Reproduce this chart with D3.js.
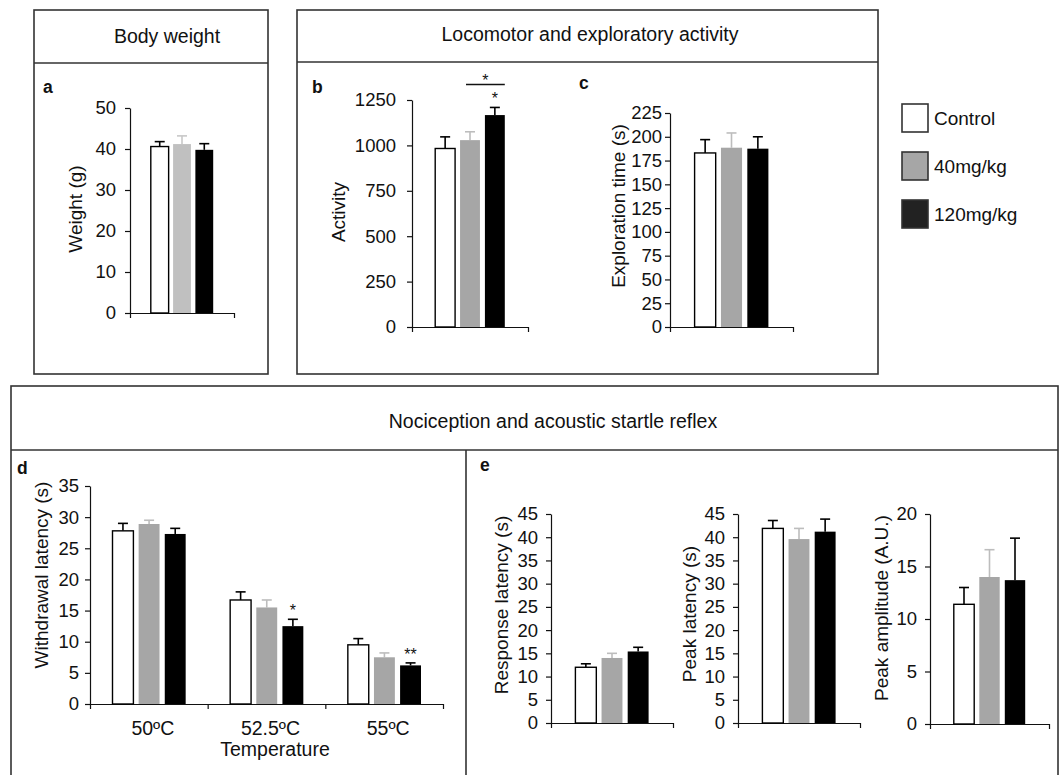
<!doctype html>
<html>
<head>
<meta charset="utf-8">
<script src="https://d3js.org/d3.v7.min.js"></script>
<style>
  body { margin: 0; background: #fff; }
  svg { display: block; }
  text { font-family: "Liberation Sans", Arial, sans-serif; fill: #111; }
</style>
</head>
<body>
<svg id="fig" width="1059" height="775"></svg>
<script>
// groups and legend
const groups = ["Control", "40mg/kg", "120mg/kg"];
const groupFill = ["#ffffff", "#a6a6a6", "#000000"];
const groupErr = ["#000000", "#bdbdbd", "#000000"];
const legendFill = ["#ffffff", "#a6a6a6", "#222222"];

// a: body weight
const weightMean = [40.6, 41.2, 39.8];
const weightSem = [1.2, 2.0, 1.5];
const weightTicks = [0, 10, 20, 30, 40, 50];

// b: locomotor activity
const activityMean = [983, 1029, 1167];
const activitySem = [64, 46, 42];
const activityTicks = [0, 250, 500, 750, 1000, 1250];

// c: exploration time
const explorationMean = [183, 188.5, 187.5];
const explorationSem = [14, 15.5, 12.5];
const explorationTicks = [0, 25, 50, 75, 100, 125, 150, 175, 200, 225];

// d: withdrawal latency by temperature
const temps = ["50ºC", "52.5ºC", "55ºC"];
const withdrawalMean = [[27.8, 28.9, 27.3], [16.7, 15.5, 12.5], [9.5, 7.5, 6.2]];
const withdrawalSem = [[1.2, 0.6, 0.9], [1.3, 1.2, 1.1], [1.0, 0.7, 0.4]];
const withdrawalStars = [["", "", ""], ["", "", "*"], ["", "", "**"]];
const withdrawalTicks = [0, 5, 10, 15, 20, 25, 30, 35];

// e: acoustic startle
const responseMean = [12.0, 14.0, 15.4];
const responseSem = [0.75, 1.0, 0.9];
const peakLatMean = [41.9, 39.6, 41.2];
const peakLatSem = [1.7, 2.3, 2.7];
const peakAmpMean = [11.4, 14.0, 13.7];
const peakAmpSem = [1.6, 2.6, 4.0];
const latencyTicks = [0, 5, 10, 15, 20, 25, 30, 35, 40, 45];
const amplitudeTicks = [0, 5, 10, 15, 20];

const svg = d3.select("#fig");
const ink = "#111";

function box(x0, y0, x1, y1, divY) {
  svg.append("rect").attr("x", x0).attr("y", y0).attr("width", x1 - x0).attr("height", y1 - y0)
    .attr("fill", "none").attr("stroke", "#333").attr("stroke-width", 1.6);
  svg.append("line").attr("x1", x0).attr("x2", x1).attr("y1", divY).attr("y2", divY)
    .attr("stroke", "#333").attr("stroke-width", 1.6);
}

function label(x, y, txt, size, opts) {
  opts = opts || {};
  const t = svg.append("text").attr("x", x).attr("y", y).text(txt)
    .attr("font-size", size).attr("text-anchor", opts.anchor || "middle");
  if (opts.bold) t.attr("font-weight", "bold");
  if (opts.rotate) t.attr("transform", `rotate(-90,${x},${y})`);
  return t;
}

function styleAxis(g, size) {
  g.attr("font-size", size).attr("font-family", "'Liberation Sans', Arial, sans-serif")
    .style("color", ink);
  g.selectAll("path, line").attr("stroke-width", 1.2);
}

// y axis + baseline axis, returns y scale
function axes(x0, x1, yBottom, yTop, ticks, pad, xTicks) {
  const y = d3.scaleLinear().domain([0, d3.max(ticks)]).range([yBottom, yTop]);
  const ga = svg.append("g").attr("transform", `translate(${x0},0)`)
    .call(d3.axisLeft(y).tickValues(ticks).tickSize(5).tickSizeOuter(0).tickPadding(pad)
      .tickFormat(d3.format("d")));
  styleAxis(ga, 18.5);
  const xs = d3.scaleLinear().domain([0, xTicks]).range([x0, x1]);
  const gb = svg.append("g").attr("transform", `translate(0,${yBottom})`)
    .call(d3.axisBottom(xs).tickValues(d3.range(xTicks + 1)).tickSize(5).tickSizeOuter(0).tickFormat(""));
  styleAxis(gb, 18);
  return y;
}

function bars(xBand, y, means, sems, fills, errs, stars) {
  const g = svg.append("g");
  const data = means.map((m, i) => ({ m: m, s: sems[i], i: i, star: stars ? stars[i] : "" }));
  const bw = xBand.bandwidth();
  // whisker (drawn first so bar top covers it)
  g.selectAll("line.err").data(data).enter().append("line")
    .attr("x1", d => xBand(groups[d.i]) + bw / 2).attr("x2", d => xBand(groups[d.i]) + bw / 2)
    .attr("y1", d => y(d.m)).attr("y2", d => y(d.m + d.s))
    .attr("stroke", d => errs[d.i]).attr("stroke-width", 1.6);
  g.selectAll("line.cap").data(data).enter().append("line")
    .attr("x1", d => xBand(groups[d.i]) + bw / 2 - 5).attr("x2", d => xBand(groups[d.i]) + bw / 2 + 5)
    .attr("y1", d => y(d.m + d.s)).attr("y2", d => y(d.m + d.s))
    .attr("stroke", d => errs[d.i]).attr("stroke-width", 1.6);
  g.selectAll("rect").data(data).enter().append("rect")
    .attr("x", d => xBand(groups[d.i])).attr("width", bw)
    .attr("y", d => y(d.m)).attr("height", d => y(0) - y(d.m))
    .attr("fill", d => fills[d.i])
    .attr("stroke", d => d.i === 0 ? "#000" : "none").attr("stroke-width", 1.4);
  g.selectAll("text").data(data.filter(d => d.star)).enter().append("text")
    .attr("x", d => xBand(groups[d.i]) + bw / 2).attr("y", d => y(d.m + d.s) - 3)
    .attr("text-anchor", "middle").attr("font-size", 16).text(d => d.star);
}

function simplePanel(cfg) {
  const y = axes(cfg.x0, cfg.x1, cfg.yb, cfg.yt, cfg.ticks, cfg.pad, 1);
  const inset = (cfg.x1 - cfg.x0) * 0.2;
  const xb = d3.scaleBand().domain(groups).range([cfg.x0 + inset, cfg.x1 - inset]).paddingInner(0.2);
  bars(xb, y, cfg.mean, cfg.sem, cfg.fills || groupFill, cfg.errs || groupErr, cfg.stars);
  label(cfg.lx, cfg.ly, cfg.title, 19, { rotate: true });
  return { y: y, xb: xb };
}

// ---- frames and headings
box(34, 10, 268, 374, 63);
box(297, 10, 878, 374, 62);
box(11, 386, 1058, 790, 450);
svg.append("line").attr("x1", 466).attr("x2", 466).attr("y1", 450).attr("y2", 775)
  .attr("stroke", "#333").attr("stroke-width", 1.6);

label(167, 43, "Body weight", 19.5);
label(590, 41, "Locomotor and exploratory activity", 19.5);
label(553, 428, "Nociception and acoustic startle reflex", 19.5);

label(43, 93, "a", 17.5, { bold: true, anchor: "start" });
label(312, 93, "b", 17.5, { bold: true, anchor: "start" });
label(579, 89, "c", 17.5, { bold: true, anchor: "start" });
label(17, 474, "d", 17.5, { bold: true, anchor: "start" });
label(480, 471, "e", 17.5, { bold: true, anchor: "start" });

// ---- a
simplePanel({ x0: 130, x1: 234, yb: 313, yt: 108, ticks: weightTicks, pad: 9,
  mean: weightMean, sem: weightSem, fills: ["#ffffff", "#c0c0c0", "#000000"], errs: ["#000", "#c8c8c8", "#000"],
  lx: 82, ly: 209, title: "Weight (g)" });

// ---- b
const pb = simplePanel({ x0: 412, x1: 528, yb: 327, yt: 100, ticks: activityTicks, pad: 11,
  mean: activityMean, sem: activitySem, stars: ["", "", "*"],
  lx: 345, ly: 212, title: "Activity" });
// significance bracket between 40mg/kg and 120mg/kg
const sigY = pb.y(activityMean[2] + activitySem[2]) - 23;
svg.append("line")
  .attr("x1", pb.xb(groups[1]) + pb.xb.bandwidth() * 0.3).attr("x2", pb.xb(groups[2]) + pb.xb.bandwidth())
  .attr("y1", sigY).attr("y2", sigY).attr("stroke", "#111").attr("stroke-width", 1.6);
label((pb.xb(groups[1]) + pb.xb(groups[2]) + pb.xb.bandwidth() * 1.3) / 2, sigY + 2, "*", 16);

// ---- c
simplePanel({ x0: 670, x1: 793, yb: 327, yt: 113, ticks: explorationTicks, pad: 3,
  mean: explorationMean, sem: explorationSem,
  lx: 625, ly: 206, title: "Exploration time (s)" });

// ---- legend
const leg = svg.append("g");
groups.forEach((gname, i) => {
  leg.append("rect").attr("x", 902).attr("y", 104 + i * 48).attr("width", 26).attr("height", 28)
    .attr("fill", legendFill[i]).attr("stroke", "#333").attr("stroke-width", 1.6);
  leg.append("text").attr("x", 934).attr("y", 125 + i * 48).attr("font-size", 19).text(gname);
});

// ---- d
const yd = axes(90, 443, 704, 486, withdrawalTicks, 6, 3);
const xd = d3.scaleBand().domain(temps).range([90, 443]);
temps.forEach((t, k) => {
  const inner = d3.scaleBand().domain(groups)
    .range([xd(t) + 22.5, xd(t) + xd.bandwidth() - 22]).paddingInner(0.2);
  bars(inner, yd, withdrawalMean[k], withdrawalSem[k], groupFill, groupErr, withdrawalStars[k]);
  label(xd(t) + xd.bandwidth() / 2 + 4, 735, t, 19.5);
});
label(275, 756, "Temperature", 19.5);
label(48, 575, "Withdrawal latency (s)", 19, { rotate: true });

// ---- e
simplePanel({ x0: 551, x1: 673, yb: 723, yt: 514, ticks: latencyTicks, pad: 8,
  mean: responseMean, sem: responseSem, lx: 508, ly: 605, title: "Response latency (s)" });
simplePanel({ x0: 738, x1: 860, yb: 723, yt: 514, ticks: latencyTicks, pad: 8,
  mean: peakLatMean, sem: peakLatSem, lx: 696, ly: 614, title: "Peak latency (s)" });
simplePanel({ x0: 930, x1: 1049, yb: 724, yt: 514, ticks: amplitudeTicks, pad: 8,
  mean: peakAmpMean, sem: peakAmpSem, lx: 888, ly: 608, title: "Peak amplitude (A.U.)" });
</script>
</body>
</html>
